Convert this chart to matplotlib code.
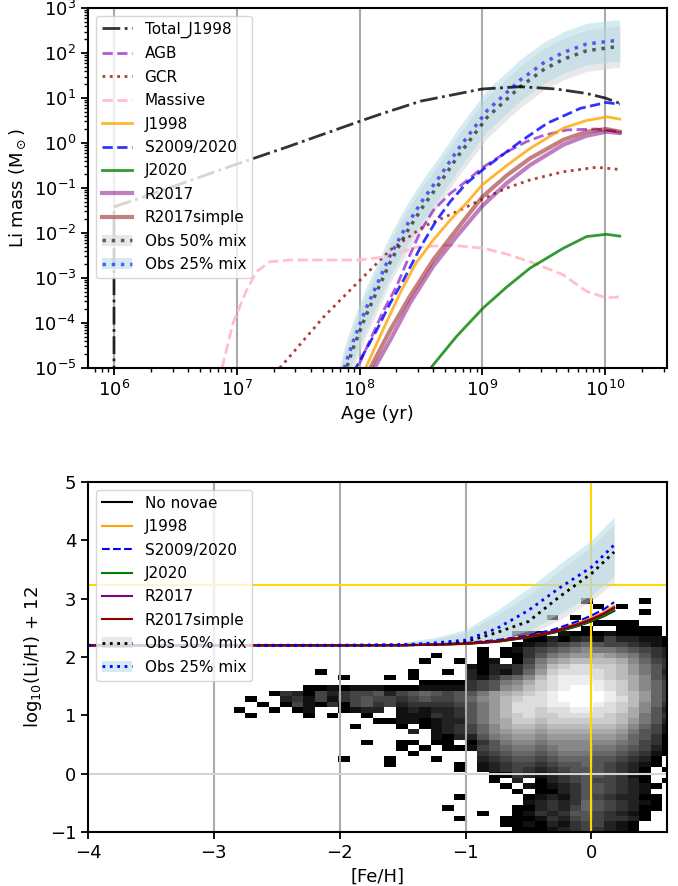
import numpy as np
import matplotlib.pyplot as plt

plt.rcParams['font.family'] = ['DejaVu Sans']
plt.rcParams['mathtext.default'] = 'regular'
plt.rcParams['axes.linewidth'] = 1.5

# ---------------- top panel: Li mass vs age (log10 values)
total_logt = [6.0, 6.0, 6.25, 6.5, 6.75, 7.0, 7.41, 8.0, 8.17, 8.5, 9.0, 9.31, 9.6, 9.85, 10.0, 10.12]
total_logm = [-6.0, -1.42, -1.19, -0.95, -0.71, -0.47, -0.09, 0.48, 0.64, 0.93, 1.2, 1.25, 1.2, 1.1, 1.0, 0.88]

agb_logt = [7.95, 8.1, 8.2, 8.3, 8.4, 8.5, 8.6, 8.74, 8.87, 9.0, 9.2, 9.36, 9.5, 9.69, 9.93, 10.12]
agb_logm = [-5.2, -4.3, -3.7, -3.2, -2.55, -1.95, -1.5, -1.12, -0.85, -0.55, -0.2, 0.03, 0.17, 0.29, 0.31, 0.25]

gcr_logt = [7.35, 7.43, 7.71, 8.0, 8.25, 8.52, 8.79, 9.0, 9.2, 9.39, 9.66, 9.93, 10.12]
gcr_logm = [-5.0, -4.75, -3.86, -3.06, -2.38, -1.86, -1.53, -1.25, -1.0, -0.82, -0.64, -0.54, -0.59]

massive_logt = [6.88, 6.97, 7.08, 7.16, 7.27, 7.43, 7.7, 8.0, 8.25, 8.44, 8.74, 9.01, 9.2, 9.39, 9.66, 9.85, 10.01, 10.12]
massive_logm = [-5.0, -4.0, -3.27, -2.86, -2.64, -2.6, -2.6, -2.6, -2.52, -2.32, -2.27, -2.34, -2.47, -2.64, -2.93, -3.3, -3.44, -3.42]

j1998_logt = [7.95, 8.19, 8.33, 8.46, 8.60, 8.74, 8.87, 9.0, 9.2, 9.39, 9.66, 9.85, 10.02, 10.12]
j1998_logm = [-5.6, -4.16, -3.34, -2.67, -2.16, -1.71, -1.34, -0.93, -0.5, -0.12, 0.33, 0.5, 0.58, 0.53]

s09_logt = [7.95, 8.14, 8.25, 8.36, 8.5, 8.62, 8.74, 8.87, 9.01, 9.31, 9.53, 9.8, 10.01, 10.12]
s09_logm = [-5.1, -4.16, -3.56, -3.04, -2.3, -1.75, -1.3, -0.9, -0.58, 0.03, 0.44, 0.77, 0.9, 0.86]

j2020_logt = [8.58, 8.79, 9.01, 9.2, 9.39, 9.66, 9.85, 10.01, 10.12]
j2020_logm = [-5.0, -4.30, -3.66, -3.2, -2.78, -2.34, -2.08, -2.03, -2.07]

r2017_logt = [8.08, 8.25, 8.41, 8.60, 8.79, 9.0, 9.2, 9.39, 9.66, 9.85, 10.01, 10.12]
r2017_logm = [-5.2, -4.38, -3.56, -2.74, -2.08, -1.4, -0.89, -0.49, -0.04, 0.16, 0.25, 0.22]

r2017s_logt = [8.05, 8.25, 8.41, 8.60, 8.79, 9.0, 9.2, 9.39, 9.66, 9.85, 10.01, 10.12]
r2017s_logm = [-5.2, -4.16, -3.41, -2.6, -1.93, -1.2, -0.72, -0.34, 0.07, 0.25, 0.31, 0.25]

obs_logt = [7.82, 7.88, 7.95, 8.05, 8.15, 8.25, 8.38, 8.52, 8.66, 8.8, 9.04, 9.31, 9.5, 9.66, 9.85, 10.07, 10.12]
obs25_logm = [-5.6, -4.97, -4.4, -3.7, -3.1, -2.5, -1.85, -1.25, -0.72, -0.15, 0.72, 1.40, 1.78, 2.01, 2.2, 2.27, 2.27]
obs25_hi = [-5.14, -4.51, -3.94, -3.24, -2.64, -2.04, -1.39, -0.79, -0.26, 0.31, 1.18, 1.86, 2.24, 2.47, 2.66, 2.73, 2.73]
obs25_lo = [-6.06, -5.43, -4.86, -4.16, -3.56, -2.96, -2.31, -1.71, -1.18, -0.61, 0.26, 0.94, 1.32, 1.55, 1.74, 1.81, 1.81]
obs50_logm = [-5.75, -5.12, -4.55, -3.85, -3.25, -2.65, -2.0, -1.4, -0.87, -0.3, 0.57, 1.25, 1.63, 1.86, 2.05, 2.13, 2.13]
obs50_hi = [-5.29, -4.66, -4.09, -3.39, -2.79, -2.19, -1.54, -0.94, -0.41, 0.16, 1.03, 1.71, 2.09, 2.32, 2.51, 2.59, 2.59]
obs50_lo = [-6.21, -5.58, -5.01, -4.31, -3.71, -3.11, -2.46, -1.86, -1.33, -0.76, 0.11, 0.79, 1.17, 1.40, 1.59, 1.67, 1.67]

# ---------------- bottom panel: A(Li) vs [Fe/H]
feh = [-4.0, -3.0, -2.0, -1.5, -1.25, -1.0, -0.75, -0.5, -0.3, -0.1, 0.0, 0.1, 0.18]
nonovae_b = [2.2, 2.2, 2.2, 2.2, 2.21, 2.225, 2.26, 2.335, 2.415, 2.535, 2.61, 2.70, 2.79]
j1998_b = [2.2, 2.2, 2.2, 2.203, 2.213, 2.235, 2.28, 2.36, 2.45, 2.59, 2.67, 2.77, 2.88]
s09_b = [2.2, 2.2, 2.2, 2.205, 2.215, 2.24, 2.29, 2.37, 2.47, 2.62, 2.71, 2.82, 2.94]
j2020_b = [2.2, 2.2, 2.2, 2.2, 2.21, 2.225, 2.265, 2.34, 2.42, 2.54, 2.62, 2.71, 2.80]
r2017_b = [2.2, 2.2, 2.2, 2.202, 2.212, 2.23, 2.275, 2.35, 2.44, 2.57, 2.65, 2.75, 2.85]
r2017s_b = [2.2, 2.2, 2.2, 2.202, 2.211, 2.228, 2.27, 2.345, 2.43, 2.56, 2.64, 2.74, 2.84]

obs_feh = [-4.0, -2.0, -1.5, -1.25, -1.0, -0.75, -0.5, -0.25, 0.0, 0.18]
obs25_b = [2.2, 2.2, 2.21, 2.24, 2.29, 2.49, 2.8, 3.19, 3.54, 3.92]
obs25_b_hi = [2.2, 2.21, 2.25, 2.33, 2.47, 2.8, 3.18, 3.6, 4.0, 4.40]
obs25_b_lo = [2.2, 2.2, 2.2, 2.21, 2.22, 2.3, 2.45, 2.75, 3.06, 3.38]
obs50_b = [2.2, 2.2, 2.205, 2.22, 2.26, 2.42, 2.61, 3.04, 3.43, 3.80]
obs50_b_hi = [2.2, 2.2, 2.23, 2.3, 2.42, 2.72, 3.06, 3.48, 3.9, 4.28]
obs50_b_lo = [2.2, 2.2, 2.2, 2.2, 2.21, 2.26, 2.38, 2.64, 2.96, 3.28]

li_meteoritic = 3.24

# observed stars, 2D histogram shade per cell (hex gray level, ' ' = empty)
# rows from top (A(Li) ~ 3.0) to bottom (A(Li) ~ -1), split as cols 0-12 | 13-24 | 25-37
hist_rows = [
    "||     0    0",
    "||      0 0",
    "||          0",
    "||  0 0",
    "||      0000",
    "||     0  0000",
    "|           0|00 100010000",
    "||0020231422110",
    "|           0|1234565443210",
    "|        0 01|3456787765432",
    "|    0   0 00|357899a987532",
    "|   0  0 01 0|479abbbba8643",
    "|       10223|58bcddccb9753",
    "       0|  0  0 20213|69cddddcb9752",
    "         0|0 0    21356|8bdeeedcba853",
    "|   000034578|acdeeeedca864",
    "      0010111|000111134589|bcdeffedca864",
    "   0320423445|2456545579ab|cdeffffecb964",
    " 0  231413454|4345445689bc|ddeffffedb964",
    "  0 041030453|4233334579bd|ddeeffedcb863",
    "0  0 01  0122| 121223579bd|dcddeeddca852",
    " 0    0 0  0| 111323579bc|dccddddcba753",
    "            0|0110122579ac|cbccccccb9752",
    "          0| 0 0123468ab|babbbbbba8641",
    "|  2 1234689a|a9aaaaaa97541",
    "|    10225789|9899999986530",
    "           0| 00 00 03578|8788888876430",
    "| 0 0 0014567|7678887765420",
    "|  0     3456|6567776654310",
    "         0|0   0   2345|545666554320",
    "|0     0 1234|434556543210",
    "|      0 1234|32345554320 0",
    "|         003|21234554310",
    "|         0 2| 0234544320 0",
    "|          0|101235543210",
    "|           0| 0023554321",
    "|      0|012135432200",
    "||123236543210",
    "|     0     0|023246543200",
    "|        0  0|13235543210",
    "|      0   00|01324543320",
    "|          00|1021344210",
    "|           0|0012343210",
]
hist_x0, hist_dx = -2.841, 0.092
hist_y0, hist_dy = -1.007, 0.0933


def rows_to_grid(rows, widths=(13, 12, 13)):
    grid = []
    for row in rows:
        parts = row.split('|')
        s = ''.join(p.ljust(w)[:w] for p, w in zip(parts, widths))
        grid.append([np.nan if c == ' ' else int(c, 16) for c in s])
    return np.array(grid[::-1], dtype=float)


def p10(v):
    return 10 ** np.array(v)


fig = plt.figure(figsize=(6.78, 8.86), dpi=100)

# ================= top panel
ax = fig.add_axes([0.1298, 0.5847, 0.854, 0.4063])
for d in [6, 7, 8, 9, 10]:
    ax.axvline(10 ** d, color='#aaaaaa', lw=1.5, zorder=1)

b50 = ax.fill_between(p10(obs_logt), p10(obs50_lo), p10(obs50_hi), color='lightgray', alpha=0.5, lw=0, zorder=1.5)
b25 = ax.fill_between(p10(obs_logt), p10(obs25_lo), p10(obs25_hi), color='lightblue', alpha=0.5, lw=0, zorder=1.6)

h = []
h += ax.plot(p10(total_logt), p10(total_logm), '-.', color='black', alpha=0.8, lw=2)
h += ax.plot(p10(agb_logt), p10(agb_logm), '--', color='darkorchid', alpha=0.8, lw=2)
h += ax.plot(p10(gcr_logt), p10(gcr_logm), ':', color='brown', alpha=0.9, lw=2)
h += ax.plot(p10(massive_logt), p10(massive_logm), '--', color='pink', lw=2)
h += ax.plot(p10(j1998_logt), p10(j1998_logm), '-', color='orange', alpha=0.8, lw=2)
h += ax.plot(p10(s09_logt), p10(s09_logm), '--', color='blue', alpha=0.8, lw=2)
h += ax.plot(p10(j2020_logt), p10(j2020_logm), '-', color='green', alpha=0.8, lw=2)
h += ax.plot(p10(r2017_logt), p10(r2017_logm), '-', color='purple', alpha=0.5, lw=3)
h += ax.plot(p10(r2017s_logt), p10(r2017s_logm), '-', color='darkred', alpha=0.5, lw=3)
l50, = ax.plot(p10(obs_logt), p10(obs50_logm), ':', color='black', alpha=0.6, lw=2.5)
l25, = ax.plot(p10(obs_logt), p10(obs25_logm), ':', color='blue', alpha=0.6, lw=2.5)

labels = ['Total_J1998', 'AGB', 'GCR', 'Massive', 'J1998', 'S2009/2020', 'J2020',
          'R2017', 'R2017simple', 'Obs 50% mix', 'Obs 25% mix']
ax.legend(h + [(b50, l50), (b25, l25)], labels, loc='upper left', fontsize=11, labelspacing=0.55)

ax.set_xscale('log')
ax.set_yscale('log')
ax.set_xlim(6.14e5, 3.2e10)
ax.set_ylim(1e-5, 1e3)
ax.set_xlabel('Age (yr)', fontsize=13)
ax.set_ylabel(r'Li mass (M$_\odot$)', fontsize=13)
ax.tick_params(labelsize=13, width=1.3, length=5)
ax.tick_params(which='minor', width=1, length=3)

# ================= bottom panel
ax2 = fig.add_axes([0.1298, 0.061, 0.854, 0.395])
grid = np.ma.masked_invalid(rows_to_grid(hist_rows))
xe = hist_x0 + hist_dx * np.arange(grid.shape[1] + 1)
ye = hist_y0 + hist_dy * np.arange(grid.shape[0] + 1)
ax2.pcolormesh(xe, ye, grid, cmap='gray', vmin=0, vmax=15, zorder=0)

for x in [-3, -2, -1]:
    ax2.axvline(x, color='#aaaaaa', lw=1.5, zorder=1)
ax2.axhline(0, color='#d3d3d3', lw=1.5, zorder=1)
ax2.axvline(0, color='gold', lw=1.5, zorder=1)
ax2.axhline(li_meteoritic, color='gold', lw=1.5, zorder=1)

c50 = ax2.fill_between(obs_feh, obs50_b_lo, obs50_b_hi, color='lightgray', alpha=0.5, lw=0, zorder=1.5)
c25 = ax2.fill_between(obs_feh, obs25_b_lo, obs25_b_hi, color='lightblue', alpha=0.5, lw=0, zorder=1.6)

g = []
g += ax2.plot(feh, nonovae_b, '-', color='black', lw=1.5)
g += ax2.plot(feh, j1998_b, '-', color='orange', lw=1.5)
g += ax2.plot(feh, s09_b, '--', color='blue', lw=1.5)
g += ax2.plot(feh, j2020_b, '-', color='green', lw=1.5)
g += ax2.plot(feh, r2017_b, '-', color='purple', lw=1.5)
g += ax2.plot(feh, r2017s_b, '-', color='darkred', lw=1.5)
m50, = ax2.plot(obs_feh, obs50_b, ':', color='black', lw=2)
m25, = ax2.plot(obs_feh, obs25_b, ':', color='blue', lw=2)

labels2 = ['No novae', 'J1998', 'S2009/2020', 'J2020', 'R2017', 'R2017simple',
           'Obs 50% mix', 'Obs 25% mix']
ax2.legend(g + [(c50, m50), (c25, m25)], labels2, loc='upper left', fontsize=11, labelspacing=0.55)

ax2.set_xlim(-4, 0.6)
ax2.set_ylim(-1, 5)
ax2.set_xlabel('[Fe/H]', fontsize=13)
ax2.set_ylabel(r'log$_{10}$(Li/H) + 12', fontsize=13)
ax2.tick_params(labelsize=13, width=1.3, length=5)

fig.savefig('out.png', dpi=100)
